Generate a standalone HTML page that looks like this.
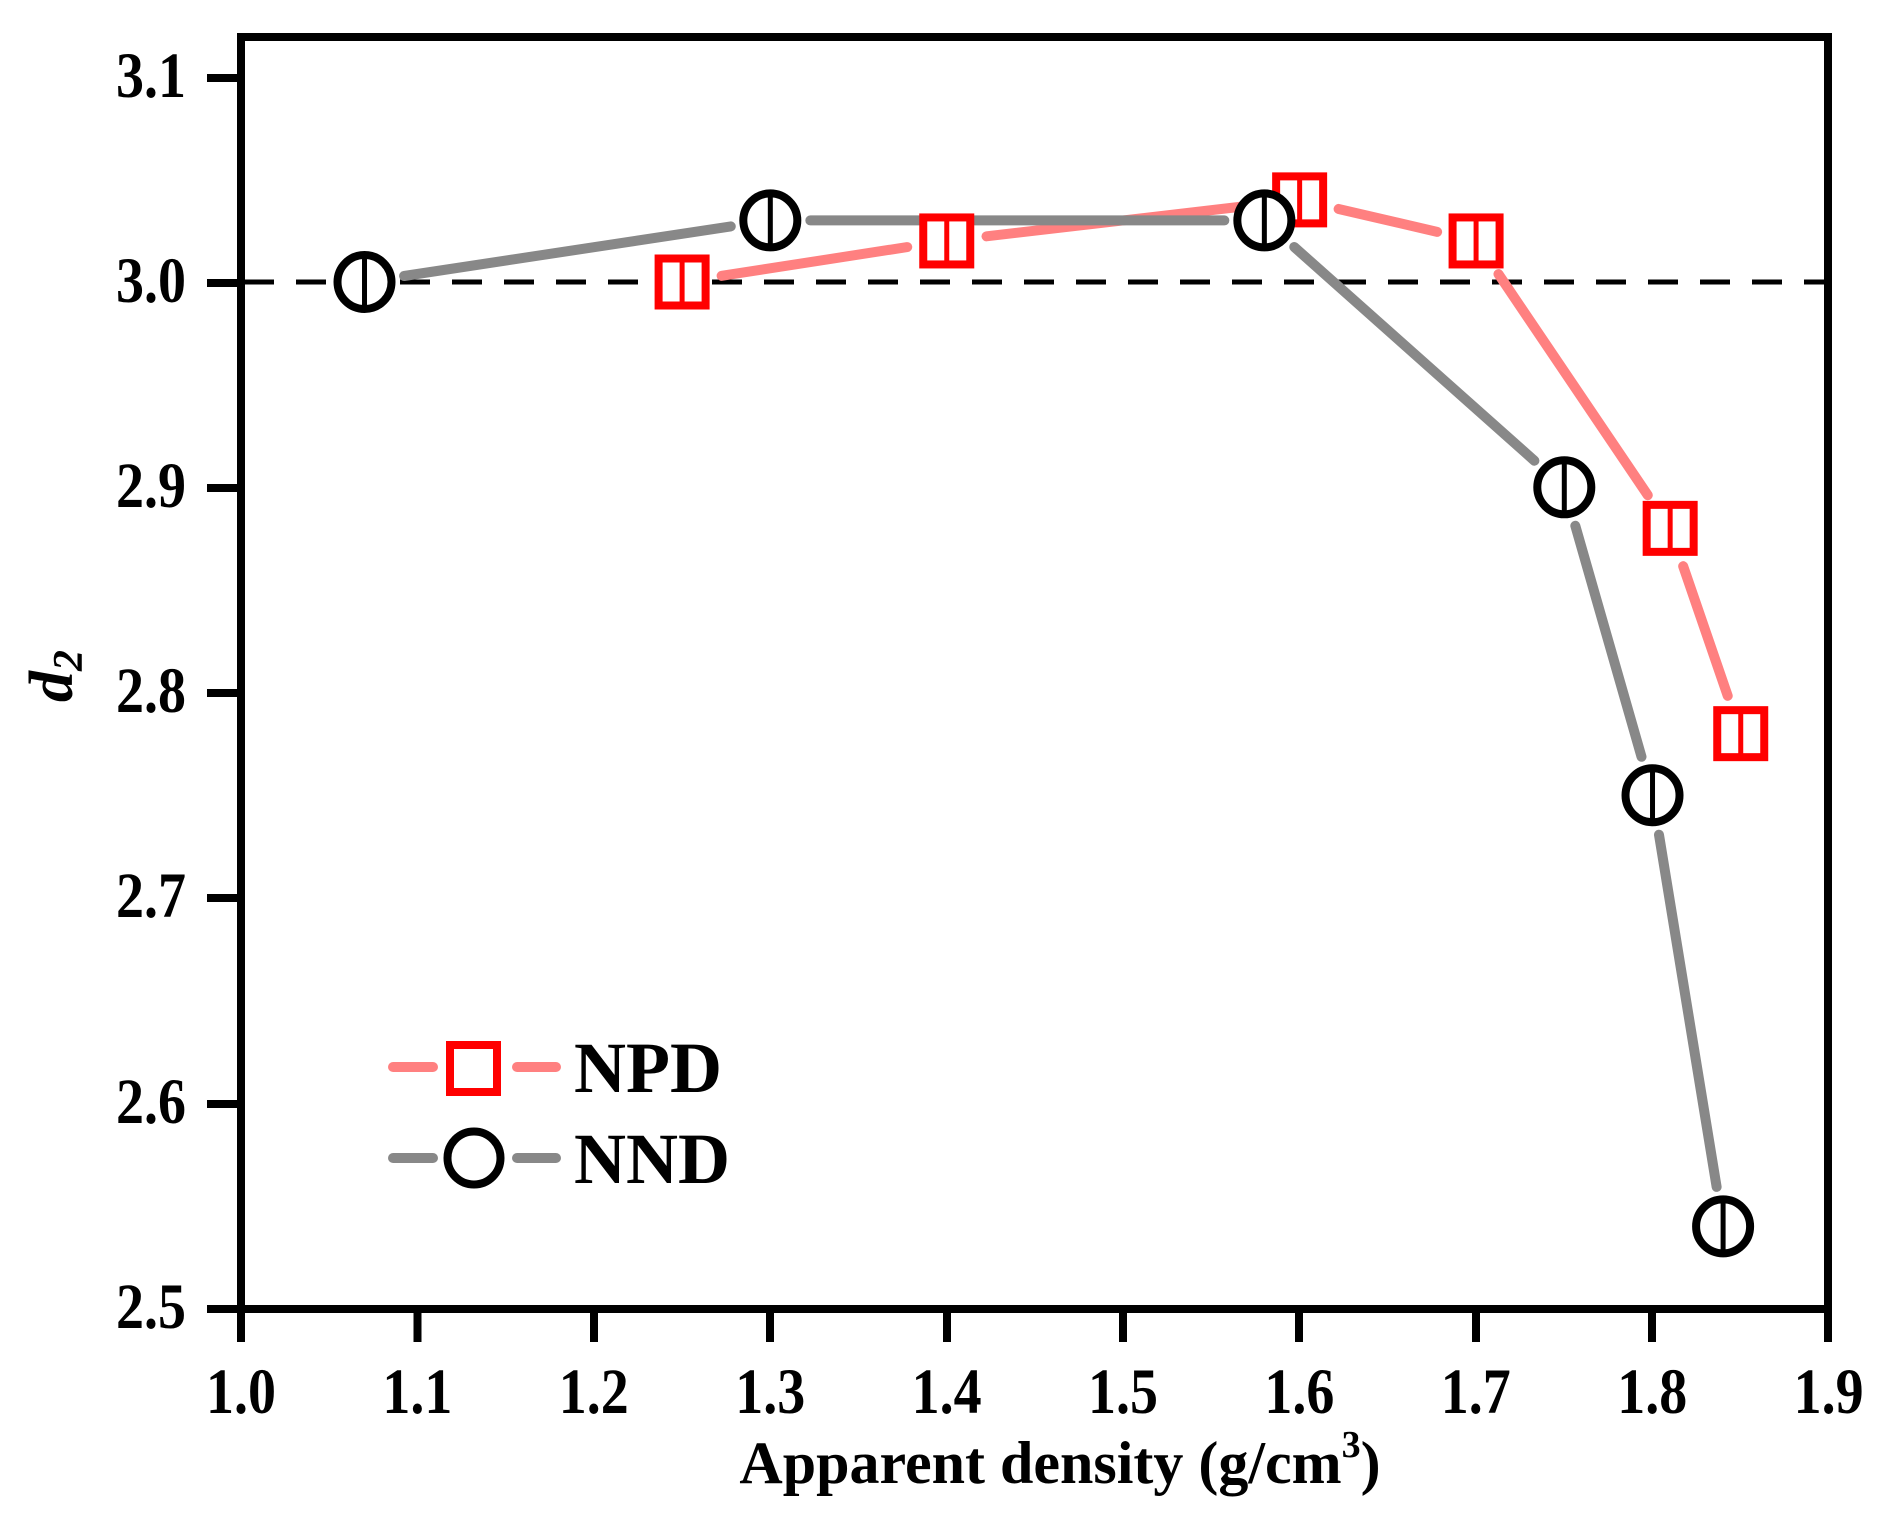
<!DOCTYPE html>
<html><head><style>
html,body{margin:0;padding:0;background:#fff;}
svg{display:block;}
text{font-family:"Liberation Serif",serif;font-weight:bold;fill:#000;}
</style></head><body>
<svg id="s" width="1890" height="1526" viewBox="0 0 1890 1526" xmlns="http://www.w3.org/2000/svg">
<rect width="1890" height="1526" fill="#fff"/>
<line x1="244" y1="282" x2="1826" y2="282" stroke="#000" stroke-width="5" stroke-dasharray="30,22"/>
<g id="lines"></g>
<g id="marks"></g>
<rect x="241" y="37" width="1587" height="1272" fill="none" stroke="#000" stroke-width="8"/>
<g stroke="#000" stroke-width="8">
<line x1="207" y1="78" x2="241" y2="78"/>
<line x1="207" y1="283" x2="241" y2="283"/>
<line x1="207" y1="488" x2="241" y2="488"/>
<line x1="207" y1="693" x2="241" y2="693"/>
<line x1="207" y1="898" x2="241" y2="898"/>
<line x1="207" y1="1104" x2="241" y2="1104"/>
<line x1="207" y1="1309" x2="241" y2="1309"/>
<line x1="241" y1="1309" x2="241" y2="1342"/>
<line x1="417.5" y1="1309" x2="417.5" y2="1342"/>
<line x1="594" y1="1309" x2="594" y2="1342"/>
<line x1="770" y1="1309" x2="770" y2="1342"/>
<line x1="947" y1="1309" x2="947" y2="1342"/>
<line x1="1123" y1="1309" x2="1123" y2="1342"/>
<line x1="1299" y1="1309" x2="1299" y2="1342"/>
<line x1="1476" y1="1309" x2="1476" y2="1342"/>
<line x1="1652" y1="1309" x2="1652" y2="1342"/>
<line x1="1828" y1="1309" x2="1828" y2="1342"/>
</g>
<g font-size="56" text-anchor="end" id="yl"></g>
<g font-size="56" text-anchor="middle" id="xl"></g>
<text x="1060" y="1483" font-size="60" text-anchor="middle">Apparent density (g/cm<tspan font-size="38" dy="-26">3</tspan><tspan dy="26">)</tspan></text>
<text transform="translate(72,676) rotate(-90)" font-size="62" text-anchor="middle" font-style="italic">d<tspan font-size="42" dy="10">2</tspan></text>
<g stroke-linecap="round" stroke-width="10">
<line x1="393" y1="1067" x2="433" y2="1067" stroke="#ff8080"/>
<line x1="517" y1="1067" x2="556" y2="1067" stroke="#ff8080"/>
<line x1="393" y1="1158" x2="433" y2="1158" stroke="#888"/>
<line x1="517" y1="1158" x2="556" y2="1158" stroke="#888"/>
</g>
<rect x="450" y="1045" width="47" height="47" fill="none" stroke="#f00" stroke-width="8"/>
<circle cx="474" cy="1158" r="26.5" fill="none" stroke="#000" stroke-width="8"/>
<text x="574" y="1092" font-size="72">NPD</text>
<text x="574" y="1183" font-size="72">NND</text>
</svg>
<script>
var ns="http://www.w3.org/2000/svg";
function tx(g,x,y,s){var t=document.createElementNS(ns,'text');t.setAttribute('x',x);t.setAttribute('y',y/1.15);t.setAttribute('transform','scale(1,1.15)');t.textContent=s;g.appendChild(t);}
var yl=document.getElementById('yl');
[['3.1',97],['3.0',302],['2.9',507],['2.8',712],['2.7',917],['2.6',1123],['2.5',1328]].forEach(function(a){tx(yl,186,a[1],a[0]);});
var xl=document.getElementById('xl');
['1.0','1.1','1.2','1.3','1.4','1.5','1.6','1.7','1.8','1.9'].forEach(function(s,i){tx(xl,241+i*176.4,1413,s);});
var X=function(v){return 241+(v-1)*1764.4;},Y=function(v){return 282+(3.0-v)*2053;};
var nnd=[[1.07,3.0],[1.3,3.03],[1.58,3.03],[1.75,2.9],[1.8,2.75],[1.84,2.54]];
var npd=[[1.25,3.0],[1.4,3.02],[1.6,3.04],[1.7,3.02],[1.81,2.88],[1.85,2.78]];
var L=document.getElementById('lines'),M=document.getElementById('marks');
function seg(d,col){for(var i=0;i<d.length-1;i++){var x1=X(d[i][0]),y1=Y(d[i][1]),x2=X(d[i+1][0]),y2=Y(d[i+1][1]);var dx=x2-x1,dy=y2-y1,l=Math.sqrt(dx*dx+dy*dy),g=40;
var e=document.createElementNS(ns,'line');e.setAttribute('x1',x1+dx/l*g);e.setAttribute('y1',y1+dy/l*g);e.setAttribute('x2',x2-dx/l*g);e.setAttribute('y2',y2-dy/l*g);e.setAttribute('stroke',col);e.setAttribute('stroke-width','10');e.setAttribute('stroke-linecap','round');L.appendChild(e);}}
seg(npd,'#ff8080');seg(nnd,'#888');
npd.forEach(function(p){var x=X(p[0]),y=Y(p[1]);var r=document.createElementNS(ns,'rect');r.setAttribute('x',x-23.5);r.setAttribute('y',y-23.5);r.setAttribute('width',47);r.setAttribute('height',47);r.setAttribute('fill','#fff');r.setAttribute('stroke','#f00');r.setAttribute('stroke-width',8);M.appendChild(r);
var v=document.createElementNS(ns,'line');v.setAttribute('x1',x);v.setAttribute('x2',x);v.setAttribute('y1',y-20);v.setAttribute('y2',y+20);v.setAttribute('stroke','#f00');v.setAttribute('stroke-width',5);M.appendChild(v);});
nnd.forEach(function(p){var x=X(p[0]),y=Y(p[1]);var c=document.createElementNS(ns,'circle');c.setAttribute('cx',x);c.setAttribute('cy',y);c.setAttribute('r',27);c.setAttribute('fill','#fff');c.setAttribute('stroke','#000');c.setAttribute('stroke-width',8);M.appendChild(c);
var v=document.createElementNS(ns,'line');v.setAttribute('x1',x);v.setAttribute('x2',x);v.setAttribute('y1',y-24);v.setAttribute('y2',y+24);v.setAttribute('stroke','#000');v.setAttribute('stroke-width',5);M.appendChild(v);});
</script>
</body></html>
